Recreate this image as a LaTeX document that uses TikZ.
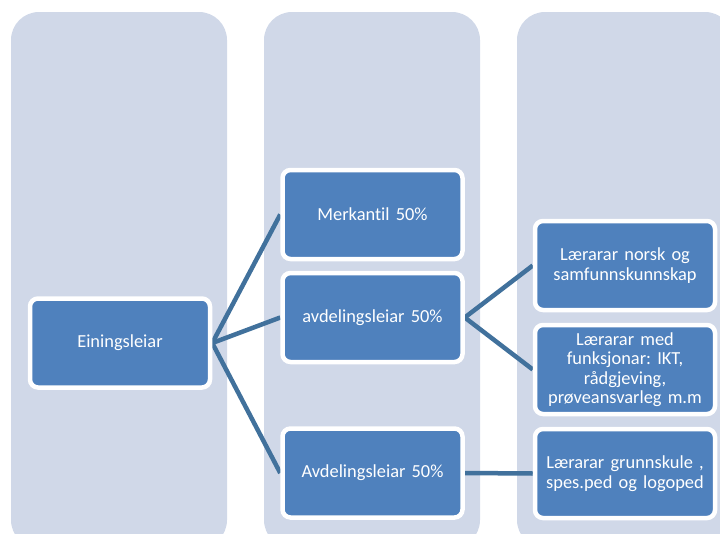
\documentclass[tikz,border=0pt]{standalone}
\usepackage{fontspec}
\setmainfont{Carlito}[Ligatures=NoCommon]
\frenchspacing
\definecolor{colbg}{HTML}{D0D8E8}
\definecolor{boxblue}{HTML}{4F81BD}
\definecolor{linkblue}{HTML}{41719C}
\pgfdeclarelayer{back}
\pgfsetlayers{back,main}
\begin{document}
\begin{tikzpicture}[x=1pt,y=-1pt,
  colbox/.style={fill=colbg,rounded corners=28pt},
  orgbox/.style={draw=white,line width=4.5pt,fill=boxblue,rounded corners=8pt,
    minimum width=180pt,minimum height=89pt,inner sep=0pt,text=white,
    align=center,text width=172pt,font=\fontsize{18.4pt}{19.5pt}\selectfont\frenchspacing},
  link/.style={draw=linkblue,line width=4.5pt}]
\useasboundingbox (0,0) rectangle (720,533);
\clip (0,0) rectangle (720,533);
\begin{pgfonlayer}{back}
\fill[colbox] (11,12) rectangle (227,548);
\fill[colbox] (264,12) rectangle (480,548);
\fill[colbox] (517,12) rectangle (733,548);
\end{pgfonlayer}
\node[orgbox] (ein) at (120,343) {Einingsleiar};
\node[orgbox] (merk) at (372.5,214.5) {Merkantil 50\%};
\node[orgbox] (avd1) at (372.5,317.5) {avdelingsleiar 50\%};
\node[orgbox] (avd2) at (372.5,473) {Avdelingsleiar 50\%};
\node[orgbox] (l1) at (625,265.5) {Lærarar norsk og\\samfunnskunnskap};
\node[orgbox] (l2) at (625,369.5) {Lærarar med\\funksjonar: IKT,\\rådgjeving,\\prøveansvarleg m.m};
\node[orgbox] (l3) at (625,473.5) {Lærarar grunnskule ,\\spes.ped og logoped};
\begin{pgfonlayer}{back}
\draw[link] (ein.east) -- (merk.west);
\draw[link] (ein.east) -- (avd1.west);
\draw[link] (ein.east) -- (avd2.west);
\draw[link] (avd1.east) -- (l1.west);
\draw[link] (avd1.east) -- (l2.west);
\draw[link] (avd2.east) -- (l3.west);
\end{pgfonlayer}
\end{tikzpicture}
\end{document}
